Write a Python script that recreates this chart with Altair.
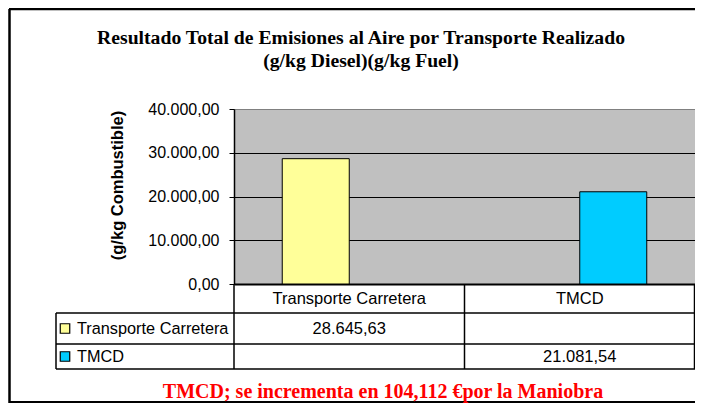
import altair as alt
import pandas as pd

# ---- data ----
CATEGORIES = ["Transporte Carretera", "TMCD"]
SERIES = ["Transporte Carretera", "TMCD"]
VALUES = [28645.63, 21081.54]
COLORS = ["#FFFF99", "#00CCFF"]
Y_TICKS = [0, 10000, 20000, 30000, 40000]
TITLE_LINES = ["Resultado Total de Emisiones al Aire por Transporte Realizado",
               "(g/kg Diesel)(g/kg Fuel)"]
Y_TITLE = "(g/kg Combustible)"
FOOTER = "TMCD; se incrementa en 104,112 €por la Maniobra"

df = pd.DataFrame({"categoria": CATEGORIES, "serie": SERIES, "valor": VALUES})
one = pd.DataFrame({"k": [0]})

SANS = "Liberation Sans"
SERIF = "Liberation Serif"
W, H = 461, 175

x_scale = alt.Scale(domain=CATEGORIES, paddingInner=0, paddingOuter=0)
color_scale = alt.Scale(domain=SERIES, range=COLORS)
row_scale = alt.Scale(domain=SERIES, range=[219.5, 247.5], padding=0)

bars = alt.Chart(df).mark_bar(stroke="black", strokeWidth=1).encode(
    x=alt.X("categoria:N", scale=x_scale, sort=CATEGORIES,
            axis=alt.Axis(title=None, labelAngle=0, ticks=False, labelPadding=14,
                          labelBaseline="middle", labelFont=SANS, labelFontSize=16.5,
                          labelColor="black", domainColor="black", domainWidth=2,
                          grid=False)),
    xOffset=alt.XOffset("serie:N", sort=SERIES,
                        scale=alt.Scale(domain=SERIES, paddingInner=0, paddingOuter=0.72)),
    y=alt.Y("valor:Q", scale=alt.Scale(domain=[0, 40000], nice=False),
            axis=alt.Axis(values=Y_TICKS, format=",.2f", title=Y_TITLE,
                          labelFont=SANS, labelFontSize=16, labelColor="black",
                          tickColor="black", tickSize=5, labelPadding=10,
                          domainColor="black", domainWidth=1.5,
                          grid=True, gridWidth=1,
                          gridColor={"condition": {"test": "datum.value === 40000", "value": "#808080"},
                                     "value": "black"},
                          titleFont=SANS, titleFontSize=16.5, titleFontWeight="bold",
                          titleColor="black", titleAngle=270, titleX=-117, titleY=76,
                          titleAlign="center", titleBaseline="middle")),
    color=alt.Color("serie:N", scale=color_scale, legend=None),
)

values_text = alt.Chart(df).mark_text(font=SANS, fontSize=16.5, color="black",
                                      baseline="middle").encode(
    x=alt.X("categoria:N", scale=x_scale, sort=CATEGORIES),
    y=alt.Y("serie:N", scale=row_scale, axis=None),
    text=alt.Text("valor:Q", format=",.2f"),
)

row_names = alt.Chart(df).mark_text(font=SANS, fontSize=16.3, color="black",
                                    align="left", baseline="middle").encode(
    x=alt.value(-157),
    y=alt.Y("serie:N", scale=row_scale, axis=None),
    text="serie:N",
)

row_keys = alt.Chart(df).mark_square(size=90, stroke="black", strokeWidth=1.2,
                                     opacity=1).encode(
    x=alt.value(-169),
    y=alt.Y("serie:N", scale=row_scale, axis=None),
    fill=alt.Fill("serie:N", scale=alt.Scale(domain=SERIES, range=COLORS), legend=None),
)


def hline(y, x1, x2, w=1.5):
    return alt.Chart(one).mark_rule(color="black", strokeWidth=w).encode(
        x=alt.value(x1), x2=alt.value(x2), y=alt.value(y))


def vline(x, y1, y2, w=1.5):
    return alt.Chart(one).mark_rule(color="black", strokeWidth=w).encode(
        x=alt.value(x), y=alt.value(y1), y2=alt.value(y2))


table_lines = [
    hline(204, -178, W), hline(235, -178, W), hline(260, -178, W),
    vline(-178, 204, 260), vline(0, H, 260), vline(W / 2, H, 260), vline(W - 0.5, H, 260),
]

frame = [
    hline(-100, -225, W + 1, 2.5),
    vline(-224.5, -100, 294, 2.5),
    hline(293, -225, W + 1, 2),
]

title = alt.Chart(one).mark_text(text=TITLE_LINES, font=SERIF, fontSize=19.7,
                                 fontWeight="bold", color="black", align="center",
                                 baseline="alphabetic", lineHeight=23).encode(
    x=alt.value(127), y=alt.value(-65))

footer = alt.Chart(one).mark_text(text=FOOTER, font=SERIF, fontSize=20,
                                  fontWeight="bold", color="#FF0000",
                                  align="center", baseline="alphabetic").encode(
    x=alt.value(149), y=alt.value(289))

chart = alt.layer(bars, values_text, row_names, row_keys, *table_lines, *frame,
                  title, footer).resolve_scale(
    y="independent"
).properties(
    width=W, height=H,
    autosize=alt.AutoSizeParams(type="none"),
    padding={"left": 226, "top": 101, "right": 0, "bottom": 119},
    background="white",
).configure(
    locale={"number": {"decimal": ",", "thousands": ".", "grouping": [3],
                       "currency": ["", " €"]}}
).configure_view(fill="#C0C0C0", stroke="#808080", strokeWidth=1)

chart.save("out.html", embed_options={"renderer": "svg", "actions": False})
